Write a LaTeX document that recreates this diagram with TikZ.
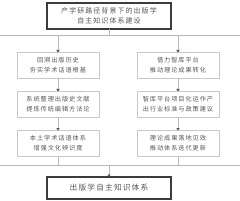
\documentclass[tikz,border=0pt]{standalone}
\usepackage{fontspec}
\setmainfont{Noto Sans CJK SC}[LetterSpace=15]
\usetikzlibrary{arrows.meta,positioning}
\definecolor{frame}{RGB}{200,200,200}
\definecolor{dark}{RGB}{60,60,60}
\definecolor{wire}{RGB}{185,185,185}
\definecolor{tip}{RGB}{60,80,110}
\definecolor{txt}{RGB}{85,85,85}
\begin{document}
\begin{tikzpicture}[x=1pt, y=1pt, text=txt,
box/.style={draw=frame, line width=0.6pt, minimum width=82pt, minimum height=26pt, inner sep=0pt, outer sep=0pt, align=center, font=\fontsize{6.2}{10}\selectfont},
main/.style={draw=dark, line width=1.2pt, minimum width=124pt, inner sep=0pt, outer sep=0pt, align=center},
wire/.style={draw=wire, line width=0.6pt},
arrow/.style={wire, -{Triangle[length=2.5pt, width=3.2pt, color=tip]}}]
\useasboundingbox (0,0) rectangle (240,-200);
\node[main, minimum height=26pt, font=\fontsize{7}{10}\selectfont] (top) at (109,-16) {产学研路径背景下的出版学\\自主知识体系建设};
\node[box] (l1) at (58,-65.5) {回溯出版历史\\夯实学术话语根基};
\node[box, below=13pt of l1] (l2) {系统整理出版史文献\\提炼传统编辑方法论};
\node[box, below=13pt of l2] (l3) {本土学术话语体系\\增强文化辨识度};
\node[box, right=38pt of l1] (r1) {借力智库平台\\推动理论成果转化};
\node[box, right=38pt of l2] (r2) {智库平台项目化运作产\\出行业标准与政策建议};
\node[box, right=38pt of l3] (r3) {理论成果落地见效\\推动体系迭代更新};
\node[main, minimum height=22pt, font=\fontsize{7.7}{10}\selectfont] (bot) at (109,-188) {出版学自主知识体系};
\coordinate (hl1w) at (0,-35);
\coordinate (hl1e) at (240,-35);
\coordinate (hl2w) at (0,-165);
\coordinate (hl2e) at (240,-165);
\draw[wire] (hl1w) -- (hl1e);
\draw[wire] (hl2w) -- (hl2e);
\draw[wire] (top.south) -- (top.south |- hl1w);
\draw[arrow] (l1.north |- hl1w) -- (l1.north);
\draw[arrow] (r1.north |- hl1w) -- (r1.north);
\draw[arrow] (l1) -- (l2);
\draw[arrow] (l2) -- (l3);
\draw[arrow] (r1) -- (r2);
\draw[arrow] (r2) -- (r3);
\draw[wire] (l3.south) -- (l3.south |- hl2w);
\draw[wire] (r3.south) -- (r3.south |- hl2w);
\draw[arrow] (bot.north |- hl2w) -- (bot.north);
\end{tikzpicture}
\end{document}
